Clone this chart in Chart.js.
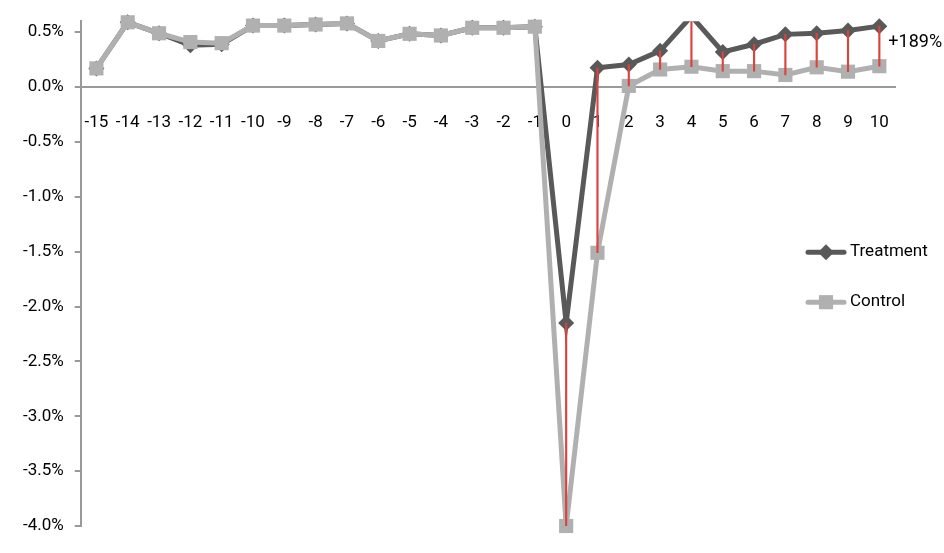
<!DOCTYPE html>
<html>
<head>
<meta charset="utf-8">
<script src="https://cdn.jsdelivr.net/npm/chart.js@4.4.1/dist/chart.umd.min.js"></script>
<style>
  html, body { margin: 0; padding: 0; background: #fff; }
  .wrap { width: 944px; height: 553px; position: relative; }
</style>
</head>
<body>
<div class="wrap"><canvas id="myChart"></canvas></div>
<script>
// event-time categories
var labels = ['-15','-14','-13','-12','-11','-10','-9','-8','-7','-6','-5','-4','-3','-2','-1',
              '0','1','2','3','4','5','6','7','8','9','10'];

// values in percent
var treatment = [0.17, 0.59, 0.49, 0.38, 0.39, 0.56, 0.56, 0.57, 0.58, 0.42, 0.485, 0.47, 0.54, 0.54, 0.55,
                 -2.15, 0.175, 0.205, 0.33, 0.645, 0.32, 0.39, 0.48, 0.49, 0.515, 0.555];
var control = [0.17, 0.59, 0.49, 0.41, 0.40, 0.56, 0.56, 0.57, 0.58, 0.42, 0.485, 0.47, 0.54, 0.54, 0.55,
               -4.0, -1.51, 0.01, 0.16, 0.185, 0.145, 0.145, 0.11, 0.18, 0.14, 0.19];

var yTicks = [-4.0, -3.5, -3.0, -2.5, -2.0, -1.5, -1.0, -0.5, 0.0, 0.5];
var yMin = -4.0, yMax = 0.6;
var gapLabel = '+189%';

var FONT = "Roboto, 'Liberation Sans', sans-serif";
var darkGray = '#595959';
var lightGray = '#b0b0b0';
var axisGray = '#999999';

// red drop lines between the two series after the event
var gaps = labels.map(function(l, i) {
  return Number(l) >= 0 ? [control[i], treatment[i]] : null;
});

function drawMarker(ctx, style, x, y, r, color) {
  ctx.fillStyle = color;
  ctx.beginPath();
  if (style === 'rectRot') {
    ctx.moveTo(x, y - r); ctx.lineTo(x + r, y); ctx.lineTo(x, y + r); ctx.lineTo(x - r, y);
  } else {
    var s = r * Math.SQRT1_2;
    ctx.rect(x - s, y - s, 2 * s, 2 * s);
  }
  ctx.closePath();
  ctx.fill();
}

var extras = {
  id: 'extras',
  afterDatasetsDraw: function(chart) {
    var ctx = chart.ctx;
    var meta = chart.getDatasetMeta(2);
    var last = meta.data[meta.data.length - 1];
    ctx.save();
    ctx.font = '18px ' + FONT;
    ctx.fillStyle = '#000';
    ctx.textBaseline = 'middle';
    ctx.textAlign = 'left';
    ctx.fillText(gapLabel, last.x + 9, last.y + 16);
    ctx.restore();
  },
  afterDraw: function(chart) {
    var ctx = chart.ctx;
    var area = chart.chartArea;
    var items = [
      { text: 'Treatment', color: darkGray, style: 'rectRot', r: 8 },
      { text: 'Control', color: lightGray, style: 'rect', r: 10 }
    ];
    var x0 = area.right - 87, y0 = area.top + 231;
    ctx.save();
    ctx.font = '17px ' + FONT;
    ctx.textBaseline = 'middle';
    items.forEach(function(it, k) {
      var y = y0 + k * 50;
      ctx.strokeStyle = it.color;
      ctx.lineWidth = 5;
      ctx.lineCap = 'round';
      ctx.beginPath();
      ctx.moveTo(x0, y);
      ctx.lineTo(x0 + 36, y);
      ctx.stroke();
      drawMarker(ctx, it.style, x0 + 18, y, it.r, it.color);
      ctx.fillStyle = '#000';
      ctx.fillText(it.text, x0 + 42, y);
    });
    ctx.restore();
  }
};

var ctx = document.getElementById('myChart').getContext('2d');
var myChart = new Chart(ctx, {
  type: 'line',
  data: {
    labels: labels,
    datasets: [
      {
        type: 'bar',
        label: 'gap',
        data: gaps,
        backgroundColor: '#d9443f',
        barThickness: 1.5,
        order: 0
      },
      {
        label: 'Control',
        data: control,
        borderColor: lightGray,
        backgroundColor: lightGray,
        borderWidth: 5,
        pointStyle: 'rect',
        pointRadius: 10,
        pointBorderWidth: 0,
        tension: 0,
        clip: false,
        order: 1
      },
      {
        label: 'Treatment',
        data: treatment,
        showLine: false,
        borderColor: darkGray,
        backgroundColor: darkGray,
        pointStyle: 'rectRot',
        pointRadius: function(c) { return c.raw > yMax ? 0 : 8; },
        pointBorderWidth: 0,
        clip: false,
        order: 2
      },
      {
        label: 'Treatment line',
        data: treatment,
        borderColor: darkGray,
        borderWidth: 5,
        pointRadius: 0,
        tension: 0,
        clip: { left: false, top: 0, right: false, bottom: false },
        order: 3
      }
    ]
  },
  options: {
    responsive: true,
    maintainAspectRatio: false,
    animation: false,
    layout: { padding: { left: 12, right: 49, top: 20, bottom: 27 } },
    plugins: {
      legend: { display: false },
      tooltip: { enabled: false }
    },
    scales: {
      x: {
        type: 'category',
        offset: true,
        position: { y: 0 },
        grid: { display: true, drawOnChartArea: false, drawTicks: false },
        border: { color: axisGray, width: 2 },
        ticks: {
          autoSkip: false, maxRotation: 0, padding: 26,
          color: '#000', font: { family: FONT, size: 17 }
        }
      },
      y: {
        min: yMin,
        max: yMax,
        afterBuildTicks: function(axis) {
          axis.ticks = yTicks.map(function(v) { return { value: v }; });
        },
        grid: { drawOnChartArea: false, tickLength: 6, color: axisGray, lineWidth: 2 },
        border: { color: axisGray, width: 2 },
        ticks: {
          padding: 11,
          color: '#000',
          font: { family: FONT, size: 17 },
          callback: function(v) { return v.toFixed(1) + '%'; }
        }
      }
    }
  },
  plugins: [extras]
});
</script>
</body>
</html>
